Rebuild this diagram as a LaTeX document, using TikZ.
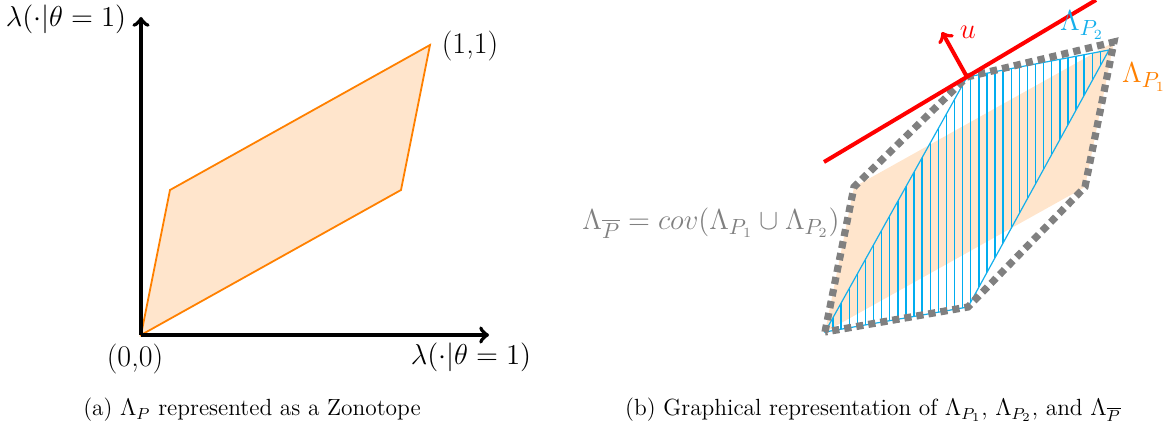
\documentclass[tikz,border=0pt]{standalone}
\usepackage{amsmath}
\begin{document}
\begin{tikzpicture}[x=0.5pt,y=-0.5pt,
  axis/.style={line width=2pt,->},
  zono/.style={draw=orange,fill=orange!20,line width=0.9pt,line join=miter},
  hull/.style={draw=gray,line width=3.6pt,dash pattern=on 3.6pt off 2.5pt},
  bluec/.style={draw={rgb,255:red,20;green,175;blue,235},line width=0.6pt},
  lbl/.style={font=\fontsize{15}{18}\selectfont,inner sep=0pt},
  captxt/.style={font=\fontsize{11.7}{14}\selectfont,inner sep=0pt}]
\useasboundingbox (0,0) rectangle (1175,433);
% ---------- panel (a)
\coordinate (O) at (141,335);
\coordinate (A1) at (170,190);
\coordinate (A2) at (430,45);
\coordinate (A3) at (401,190);
\coordinate (ytip) at (141,17);
\coordinate (xtip) at (489,335);
\draw[zono] (O) -- (A1) -- (A2) -- (A3) -- cycle;
\draw[axis] (O) -- (ytip);
\draw[axis] (O) -- (xtip);
\node[lbl] (ylab) at (66,19) {$\lambda(\cdot|\theta=1)$};
\node[lbl] (xlab) at (471,357) {$\lambda(\cdot|\theta=1)$};
\node[lbl] (orig) at (135,359) {(0,0)};
\node[lbl] (one) at (470,46) {(1,1)};
\node[captxt] (capa) at (252,410) {(a) $\Lambda_P$ represented as a Zonotope};
% ---------- panel (b)
\coordinate (B) at (825,332);
\coordinate (B1) at (854,187);
\coordinate (B2) at (1114,42);
\coordinate (B3) at (1085,187);
\coordinate (C1) at (967,77);
\coordinate (C2) at (1109,50);
\coordinate (C3) at (968,307);
\fill[orange!20] (B) -- (B1) -- (B2) -- (B3) -- cycle;
\begin{scope}
  \clip (B) -- (C1) -- (C2) -- (C3) -- cycle;
  \foreach \k in {0,...,36} {
    \draw[cyan,line width=0.7pt] ({833+8.1*\k},0) -- ({833+8.1*\k},433);
  }
\end{scope}
\draw[bluec,line join=miter] (B) -- (C1) -- (C2) -- (C3) -- cycle;
\draw[hull] (B) -- (B1) -- (C1) -- (B2) -- (B3) -- (C3) -- cycle;
\coordinate (r0) at (824,162);
\coordinate (r1) at (1096,0);
\draw[red,line width=2pt] (r0) -- (r1);
\coordinate (utip) at (942,32);
\draw[red,line width=2pt,->] (C1) -- (utip);
\node[lbl,text=red] (ulab) at (968,32) {$u$};
\node[lbl,text={rgb,255:red,20;green,175;blue,235}] (p2lab) at (1082,25) {$\Lambda_{P_2}$};
\node[lbl,text=orange] (p1lab) at (1144,77) {$\Lambda_{P_1}$};
\node[lbl,text=gray,anchor=east] (hulllab) at (840,223) {$\Lambda_{\overline{P}}=cov(\Lambda_{P_1}\cup\Lambda_{P_2})$};
\node[captxt] (capb) at (873,410) {(b) Graphical representation of $\Lambda_{P_1}$, $\Lambda_{P_2}$, and $\Lambda_{\overline{P}}$};
\end{tikzpicture}
\end{document}
